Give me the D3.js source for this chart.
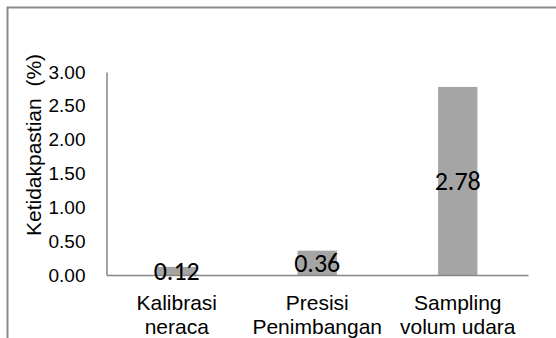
<!DOCTYPE html>
<html lang="id">
<head>
  <meta charset="UTF-8">
  <title>ketidakpastian</title>
  <script src="https://cdn.jsdelivr.net/npm/d3@7"></script>
  <style>
    body { margin: 0; background: #fff; }
    svg { display: block; }
  </style>
</head>
<body>
<script>
let categories = [['Kalibrasi', 'neraca'], ['Presisi', 'Penimbangan'], ['Sampling', 'volum udara']];
let values = [0.12, 0.36, 2.78];
let yTicks = [0, 0.5, 1, 1.5, 2, 2.5, 3];

let width = 556;
let height = 338;
let plot = { left: 106.5, right: 528, top: 72, bottom: 275 };

let svg = d3.select('body')
  .append('svg')
  .attr('width', width)
  .attr('height', height);

// outer frame (left and top edges only are visible)
svg.append('path')
  .attr('d', 'M7.5,' + height + 'V7.5H' + width)
  .attr('fill', 'none')
  .attr('stroke', '#8c8c8c')
  .attr('stroke-width', 2);

let x = d3.scaleBand()
  .domain(d3.range(categories.length))
  .range([plot.left, plot.right])
  .paddingInner(0.72)
  .paddingOuter(0.36);

let y = d3.scaleLinear()
  .domain([0, 3])
  .range([plot.bottom, plot.top]);

// bars
svg.selectAll('rect.bar')
  .data(values)
  .enter()
  .append('rect')
  .attr('class', 'bar')
  .attr('x', (d, i) => x(i))
  .attr('y', d => y(d))
  .attr('width', x.bandwidth())
  .attr('height', d => y(0) - y(d))
  .attr('fill', '#a5a5a5');

// y axis
let yAxis = d3.axisLeft(y)
  .tickValues(yTicks)
  .tickFormat(d3.format('.2f'))
  .tickSize(0)
  .tickPadding(21);

let gy = svg.append('g')
  .attr('transform', 'translate(' + plot.left + ',0)')
  .call(yAxis);
gy.select('.domain').attr('stroke', '#868686').attr('stroke-width', 1.5);
gy.selectAll('text')
  .attr('font-family', 'Liberation Sans, Arial, sans-serif')
  .attr('font-size', 19)
  .attr('fill', '#000');

// x axis line
let xAxis = d3.axisBottom(x).tickSize(0).tickFormat('');
let gx = svg.append('g')
  .attr('transform', 'translate(0,' + plot.bottom + ')')
  .call(xAxis);
gx.select('.domain').attr('stroke', '#868686').attr('stroke-width', 1.5);

// category labels
let cat = svg.selectAll('text.cat')
  .data(categories)
  .enter()
  .append('text')
  .attr('class', 'cat')
  .attr('text-anchor', 'middle')
  .attr('font-family', 'Liberation Sans, Arial, sans-serif')
  .attr('font-size', 21)
  .attr('fill', '#000');
cat.selectAll('tspan')
  .data((d, i) => d.map(s => ({ s: s, i: i })))
  .enter()
  .append('tspan')
  .attr('x', d => x(d.i) + x.bandwidth() / 2)
  .attr('y', (d, j) => 310 + j * 23.5)
  .text(d => d.s);

// value labels, centred in the bars
svg.selectAll('text.val')
  .data(values)
  .enter()
  .append('text')
  .attr('class', 'val')
  .attr('x', (d, i) => x(i) + x.bandwidth() / 2)
  .attr('y', d => (y(d) + y(0)) / 2)
  .attr('dy', '0.35em')
  .attr('text-anchor', 'middle')
  .attr('font-family', 'Carlito, Calibri, Open Sans, sans-serif')
  .attr('font-size', 26)
  .attr('fill', '#000')
  .text(d => d3.format('.2f')(d));

// y axis title
svg.append('text')
  .attr('transform', 'translate(41,145) rotate(-90)')
  .attr('text-anchor', 'middle')
  .attr('font-family', 'Liberation Sans, Arial, sans-serif')
  .attr('font-size', 21)
  .attr('fill', '#000')
  .style('white-space', 'pre')
  .text('Ketidakpastian  (%)');
</script>
</body>
</html>
